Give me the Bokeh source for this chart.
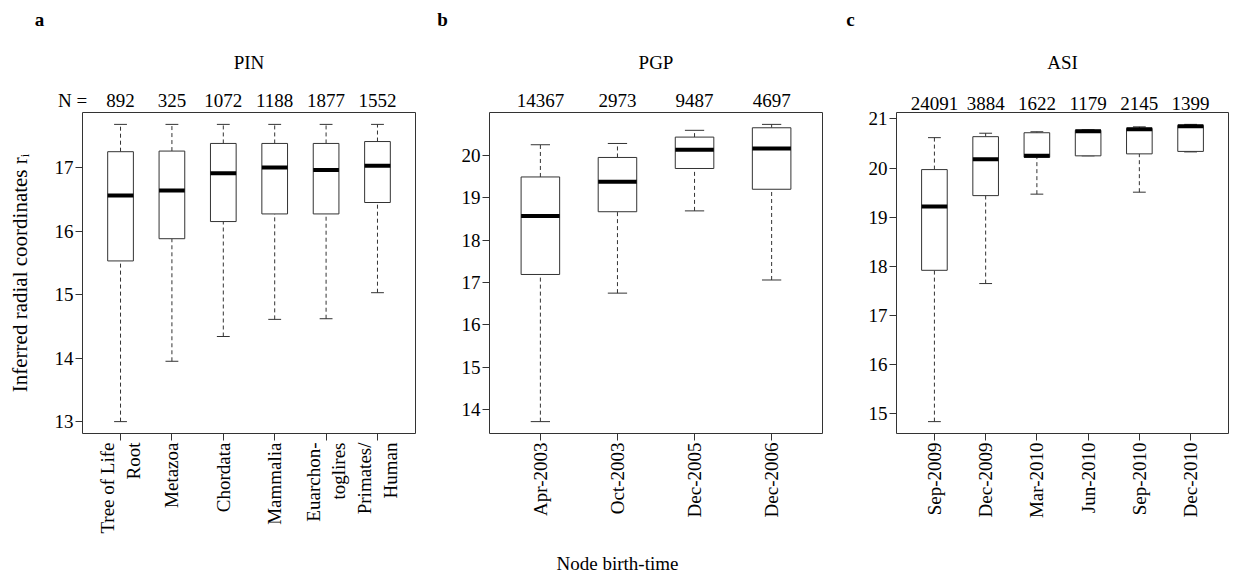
import math
import numpy as np
from bokeh.plotting import figure
from bokeh.layouts import row, column
from bokeh.models import FixedTicker, Label, LinearAxis
from bokeh.embed import file_html
from bokeh.resources import INLINE

FONT = "Liberation Serif"
FS = "19px"

# ---- Panel a: PIN ----
pin_labels = ["Tree of Life\nRoot", "Metazoa", "Chordata", "Mammalia",
              "Euarchon-\ntoglires", "Primates/\nHuman"]
pin_n = [892, 325, 1072, 1188, 1877, 1552]
pin_low = [13.00, 13.95, 14.34, 14.61, 14.62, 15.03]
pin_q1 = [15.53, 15.88, 16.15, 16.27, 16.27, 16.45]
pin_med = [16.56, 16.64, 16.91, 17.00, 16.96, 17.03]
pin_q3 = [17.25, 17.26, 17.38, 17.38, 17.38, 17.41]
pin_high = [17.68, 17.68, 17.68, 17.68, 17.68, 17.68]
pin_yticks = [13, 14, 15, 16, 17]

# ---- Panel b: PGP ----
pgp_labels = ["Apr-2003", "Oct-2003", "Dec-2005", "Dec-2006"]
pgp_n = [14367, 2973, 9487, 4697]
pgp_low = [13.72, 16.75, 18.69, 17.06]
pgp_q1 = [17.19, 18.67, 19.69, 19.20]
pgp_med = [18.57, 19.38, 20.13, 20.16]
pgp_q3 = [19.49, 19.95, 20.43, 20.65]
pgp_high = [20.25, 20.28, 20.59, 20.73]
pgp_yticks = [14, 15, 16, 17, 18, 19, 20]

# ---- Panel c: ASI ----
asi_labels = ["Sep-2009", "Dec-2009", "Mar-2010", "Jun-2010", "Sep-2010", "Dec-2010"]
asi_n = [24091, 3884, 1622, 1179, 2145, 1399]
asi_low = [14.84, 17.65, 19.47, 20.25, 19.51, 20.33]
asi_q1 = [17.92, 19.44, 20.22, 20.25, 20.29, 20.34]
asi_med = [19.22, 20.18, 20.25, 20.75, 20.79, 20.85]
asi_q3 = [19.97, 20.64, 20.72, 20.77, 20.81, 20.87]
asi_high = [20.62, 20.71, 20.74, 20.78, 20.84, 20.89]
asi_yticks = [15, 16, 17, 18, 19, 20, 21]

FRAME_TOP = 112       # page y of the frame top
FRAME_H = 321         # frame bottom at page y 433
BOT_B = 117           # panel bottom at page y 550
FOOT_H = 25           # footer 550..575
LINE = "#333333"

common = dict(text_font=FONT, text_font_size=FS, text_color="black",
              text_align="center", text_baseline="middle")


def bare(width, height, xr, yr):
    f = figure(width=width, height=height, x_range=xr, y_range=yr,
               toolbar_location=None, output_backend="svg",
               x_axis_location=None, y_axis_location=None,
               min_border=0, outline_line_color=None)
    f.grid.visible = False
    f.title.visible = False
    return f


def panel(labels, counts, low, q1, med, q3, high, yticks, fig_left, fig_width,
          frame_left, frame_width, title, letter, letter_x, head_h,
          counts_in_header=True, ylabel=None, n_prefix=False):
    n = len(labels)
    xs = np.arange(1, n + 1, dtype=float)
    lo, hi = min(low), max(high)
    pad = 0.04 * (hi - lo)
    y0, y1 = lo - pad, hi + pad
    xpad = 0.04 * n
    x0, x1 = 0.5 - xpad, n + 0.5 + xpad
    top_b = FRAME_TOP - head_h
    p = figure(width=fig_width, height=top_b + FRAME_H + BOT_B,
               x_range=(x0, x1), y_range=(y0, y1),
               toolbar_location=None, output_backend="svg",
               min_border_left=frame_left - fig_left,
               min_border_right=fig_left + fig_width - frame_left - frame_width,
               min_border_top=top_b, min_border_bottom=BOT_B)
    p.title.visible = False
    p.xgrid.visible = False
    p.ygrid.visible = False
    p.outline_line_color = LINE
    p.outline_line_width = 1

    # whiskers
    p.segment(x0=xs, y0=q3, x1=xs, y1=high, line_color=LINE, line_width=1, line_dash="4 3")
    p.segment(x0=xs, y0=low, x1=xs, y1=q1, line_color=LINE, line_width=1, line_dash="4 3")
    # staples
    p.segment(x0=xs - 0.125, y0=high, x1=xs + 0.125, y1=high, line_color=LINE, line_width=1)
    p.segment(x0=xs - 0.125, y0=low, x1=xs + 0.125, y1=low, line_color=LINE, line_width=1)
    # boxes
    p.vbar(x=xs, width=0.5, bottom=q1, top=q3, fill_color="white",
           line_color=LINE, line_width=1)
    # medians
    p.segment(x0=xs - 0.25, y0=med, x1=xs + 0.25, y1=med, line_color="black", line_width=4)

    # axes
    p.xaxis.ticker = FixedTicker(ticks=list(xs))
    p.xaxis.major_label_overrides = {int(i + 1): lab for i, lab in enumerate(labels)}
    p.xaxis.major_label_orientation = math.pi / 2
    p.yaxis.ticker = FixedTicker(ticks=list(yticks))
    for ax in (p.xaxis, p.yaxis):
        ax.axis_line_color = None
        ax.major_tick_line_color = LINE
        ax.major_tick_out = 7
        ax.major_tick_in = 0
        ax.minor_tick_line_color = None
        ax.major_label_text_font = FONT
        ax.major_label_text_font_size = FS
        ax.major_label_text_color = "black"
        ax.major_label_standoff = 2
    if ylabel:
        p.yaxis.axis_label = ylabel
        p.yaxis.axis_label_text_font = FONT
        p.yaxis.axis_label_text_font_size = "21px"
        p.yaxis.axis_label_text_font_style = "normal"
        p.yaxis.axis_label_text_color = "black"
        p.yaxis.axis_label_standoff = 20

    if not counts_in_header:
        top_axis = LinearAxis(ticker=FixedTicker(ticks=list(xs)),
                              major_label_overrides={int(i + 1): str(c) for i, c in enumerate(counts)},
                              axis_line_color=None, major_tick_line_color=None,
                              minor_tick_line_color=None, major_tick_out=0, major_tick_in=0,
                              major_label_standoff=3, major_label_text_font=FONT,
                              major_label_text_font_size=FS, major_label_text_color="black")
        p.add_layout(top_axis, "above")

    # header strip sharing the panel's x scale (extended over the borders)
    scale = (x1 - x0) / frame_width
    hx0 = x0 + (fig_left - frame_left) * scale
    hx1 = x0 + (fig_left + fig_width - frame_left) * scale
    h = bare(fig_width, head_h, (hx0, hx1), (0, head_h))

    def hy(page_y):
        return head_h - page_y

    def hx(page_x):
        return x0 + (page_x - frame_left) * scale

    h.add_layout(Label(x=hx(letter_x), y=hy(19), text=letter,
                       text_font_style="bold", **common))
    h.add_layout(Label(x=(x0 + x1) / 2, y=hy(62), text=title, **common))
    if counts_in_header:
        for xi, c in zip(xs, counts):
            h.add_layout(Label(x=xi, y=hy(100), text=str(c), **common))
    if n_prefix:
        h.add_layout(Label(x=hx(72), y=hy(100), text="N =", **common))
    # wrap each figure separately so the column does not align their frames
    return column(row(h, spacing=0), row(p, spacing=0), spacing=0)


col_a = panel(pin_labels, pin_n, pin_low, pin_q1, pin_med, pin_q3, pin_high, pin_yticks,
              fig_left=0, fig_width=430, frame_left=82, frame_width=333,
              title="PIN", letter="a", letter_x=39, head_h=111,
              ylabel="Inferred radial coordinates rᵢ", n_prefix=True)
col_b = panel(pgp_labels, pgp_n, pgp_low, pgp_q1, pgp_med, pgp_q3, pgp_high, pgp_yticks,
              fig_left=430, fig_width=410, frame_left=489, frame_width=333,
              title="PGP", letter="b", letter_x=442, head_h=111)
col_c = panel(asi_labels, asi_n, asi_low, asi_q1, asi_med, asi_q3, asi_high, asi_yticks,
              fig_left=840, fig_width=395, frame_left=896, frame_width=332,
              title="ASI", letter="c", letter_x=850, head_h=78,
              counts_in_header=False)

foot = bare(1235, FOOT_H, (0, 1235), (0, FOOT_H))
foot.add_layout(Label(x=617, y=FOOT_H - (563 - 550), text="Node birth-time", **common))

layout = column(row(col_a, col_b, col_c, spacing=0), row(foot, spacing=0), spacing=0)
open("out.html", "w").write(file_html(layout, INLINE))
